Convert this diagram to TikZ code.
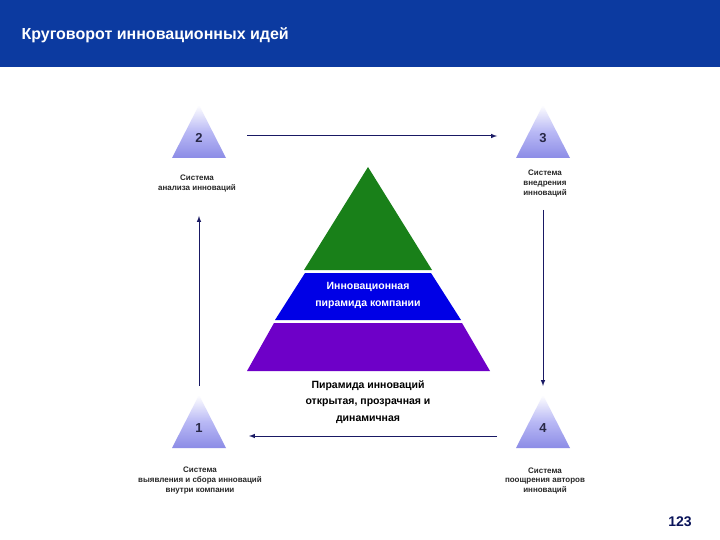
\documentclass[tikz,border=0pt]{standalone}
\usepackage{fontspec}
\setmainfont{Liberation Sans}
\definecolor{hdr}{RGB}{12,58,160}
\definecolor{trib}{RGB}{140,140,230}
\definecolor{trim}{RGB}{185,185,245}
\definecolor{numc}{RGB}{40,40,70}
\definecolor{labc}{RGB}{40,40,40}
\definecolor{arrc}{RGB}{25,25,100}
\definecolor{pg}{RGB}{25,128,25}
\definecolor{pb}{RGB}{0,0,230}
\definecolor{pp}{RGB}{110,0,200}
\definecolor{pgn}{RGB}{10,20,90}
\begin{document}
\begin{tikzpicture}[x=1pt,y=-1pt,
  tri/.style={draw=none,top color=white,bottom color=trib,middle color=trim},
  num/.style={font=\bfseries\fontsize{13}{13}\selectfont,text=numc},
  lab/.style={font=\bfseries\fontsize{8}{10}\selectfont,align=center,text=labc},
  arr/.style={draw=arrc,line width=1pt,-latex}]
\useasboundingbox (0,0) rectangle (720,540);
\fill[white] (0,0) rectangle (720,540);
\fill[hdr] (0,0) rectangle (720,67);
\node[anchor=west,text=white,font=\bfseries\fontsize{16}{16}\selectfont] (title) at (18,35) {Круговорот инновационных идей};
\foreach \n/\x/\y in {2/199/105,3/543/105,1/199/395,4/543/395}{
  \shade[tri] (\x,\y) -- (\x+27,\y+53) -- (\x-27,\y+53) -- cycle;
  \node[num] (t\n) at (\x,\y+33) {\n};
}
\node[lab] (l2) at (197,184) {Система\\анализа инноваций};
\node[lab] (l3) at (545,184) {Система\\внедрения\\инноваций};
\node[lab] (l1) at (200,481) {Система\\выявления и сбора инноваций\\внутри компании};
\node[lab] (l4) at (545,481) {Система\\поощрения авторов\\инноваций};
\coordinate (a1) at (247,136); \coordinate (a2) at (497,136);
\coordinate (b1) at (543,210); \coordinate (b2) at (543,386);
\coordinate (c1) at (497,436); \coordinate (cc2) at (249,436);
\coordinate (d1) at (199,386); \coordinate (d2) at (199,216);
\draw[arr] (a1) -- (a2);
\draw[arr] (b1) -- (b2);
\draw[arr] (c1) -- (cc2);
\draw[arr] (d1) -- (d2);
\fill[pg] (368,167) -- (432,270) -- (304,270) -- cycle;
\fill[pb] (305,273) -- (431,273) -- (461,320) -- (275,320) -- cycle;
\fill[pp] (274,323) -- (462,323) -- (490,371) -- (247,371) -- cycle;
\node[font=\bfseries\fontsize{10.5}{17}\selectfont,text=white,align=center] (pm) at (368,295) {Инновационная\\пирамида компании};
\node[font=\bfseries\fontsize{10.5}{16.5}\selectfont,align=center] (pt) at (368,402) {Пирамида инноваций\\открытая, прозрачная и\\динамичная};
\node[font=\bfseries\fontsize{14}{14}\selectfont,text=pgn] (pgnum) at (680,522) {123};
\end{tikzpicture}
\end{document}
